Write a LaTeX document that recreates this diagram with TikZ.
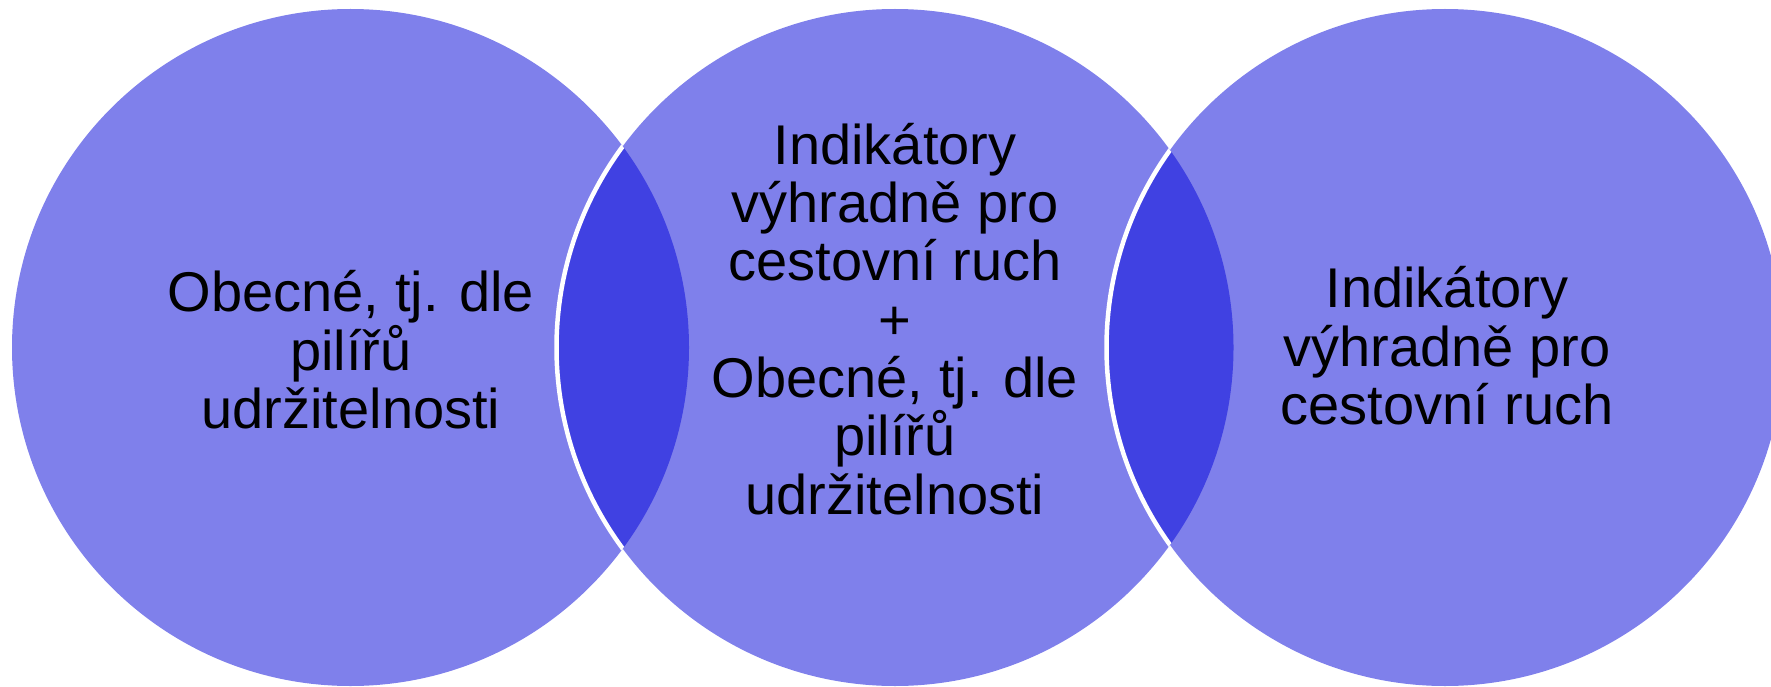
\documentclass[tikz,border=0pt]{standalone}
\usepackage{fontspec}
\setmainfont{Liberation Sans}
\definecolor{ringfill}{RGB}{127,128,235}
\definecolor{lensfill}{RGB}{64,65,226}
\begin{document}
\begin{tikzpicture}[x=1pt,y=-1pt,
  ring/.style={fill=ringfill},
  lens/.style={fill=lensfill},
  edge/.style={draw=white,line width=4.5pt},
  label/.style={align=center,font=\fontsize{56}{58.3}\selectfont,text=black,inner sep=0pt,anchor=base}]
\useasboundingbox (0,0) rectangle (1771,687);
\def\rr{338.5}
\coordinate (L) at (350.5,347.5);
\coordinate (M) at (895,347.5);
\coordinate (R) at (1445,347.5);
\fill[ring] (L) circle (\rr);
\fill[ring] (M) circle (\rr);
\fill[ring] (R) circle (\rr);
\begin{scope}
  \clip (L) circle (\rr);
  \fill[lens] (M) circle (\rr);
\end{scope}
\begin{scope}
  \clip (M) circle (\rr);
  \fill[lens] (R) circle (\rr);
\end{scope}
\begin{scope}
  \clip (L) circle (\rr);
  \draw[edge] (M) circle (\rr);
\end{scope}
\begin{scope}
  \clip (M) circle (\rr);
  \draw[edge] (R) circle (\rr);
\end{scope}
\node[label] (tl) at (351,428.5) {Obecné, tj. dle\\pilířů\\udržitelnosti};
\node[label] (tm) at (895,514) {Indikátory\\výhradně pro\\cestovní ruch\\+\\Obecné, tj. dle\\pilířů\\udržitelnosti};
\node[label] (tr) at (1447,424.5) {Indikátory\\výhradně pro\\cestovní ruch};
\end{tikzpicture}
\end{document}
